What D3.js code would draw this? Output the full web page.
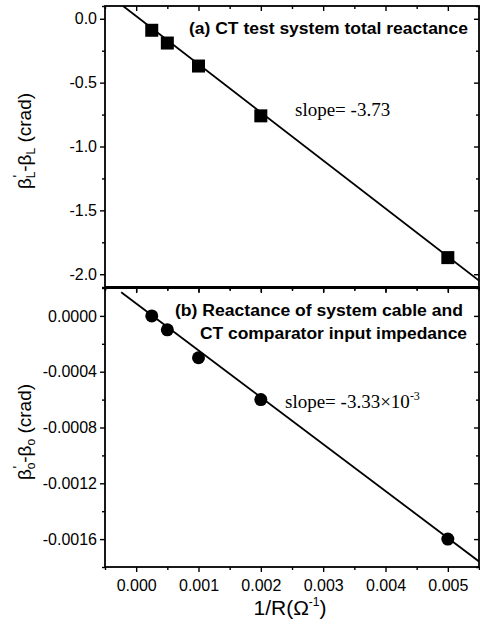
<!DOCTYPE html>
<html>
<head>
<meta charset="utf-8">
<script src="https://cdn.jsdelivr.net/npm/d3@7"></script>
<style>
  body { margin: 0; background: #fff; }
  svg text { fill: #000; }
</style>
</head>
<body>
<div id="chart"></div>
<script>
// x values (1/R, Ω^-1) shared by both panels
const invR = [0.00025, 0.0005, 0.001, 0.002, 0.005];
// (a) total reactance, crad
const dBetaL = [-0.09, -0.19, -0.37, -0.76, -1.87];
// (b) cable + comparator input impedance, crad
const dBeta0 = [0.0, -0.0001, -0.0003, -0.0006, -0.0016];

// fitted lines, end points
const fitLX = [-0.00021, 0.0055];
const fitLY = [0.1, -2.05];
const fit0X = [-0.00024, 0.0055];
const fit0Y = [0.00017, -0.00176];

const xTicks = [0, 0.001, 0.002, 0.003, 0.004, 0.005];
const xMinor = [-0.0005, 0.0005, 0.0015, 0.0025, 0.0035, 0.0045, 0.0055];
const yTicksL = [0.0, -0.5, -1.0, -1.5, -2.0];
const yMinorL = [0.1, -0.25, -0.75, -1.25, -1.75, -2.1];
const yTicks0 = [0.0, -0.0004, -0.0008, -0.0012, -0.0016];
const yMinor0 = [0.0002, -0.0002, -0.0006, -0.001, -0.0014, -0.0018];

const width = 480, height = 624;
const left = 105, right = 479;
const sans = "Arial, 'Liberation Sans', sans-serif";
const serif = "'Times New Roman', 'Liberation Serif', serif";

const svg = d3.select("#chart")
  .append("svg")
  .attr("width", width)
  .attr("height", height);

const x = d3.scaleLinear().domain([-0.0005, 0.0055]).range([left, right]);

function drawPanel(cfg) {
  const y = d3.scaleLinear().domain(cfg.yDomain).range([cfg.bottom, cfg.top]);
  const g = svg.append("g");

  const clipId = "clip-" + cfg.id;
  svg.append("clipPath").attr("id", clipId)
    .append("rect")
    .attr("x", left).attr("y", cfg.top)
    .attr("width", right - left).attr("height", cfg.bottom - cfg.top);

  // left axis, ticks outward
  g.append("g")
    .attr("transform", `translate(${left},0)`)
    .call(d3.axisLeft(y).tickValues(cfg.yTicks).tickFormat(cfg.yFormat)
      .tickSize(5).tickPadding(3).tickSizeOuter(0));
  g.append("g")
    .attr("transform", `translate(${left},0)`)
    .call(d3.axisLeft(y).tickValues(cfg.yMinor).tickFormat("").tickSize(3).tickSizeOuter(0));

  // right axis, ticks inward
  g.append("g")
    .attr("transform", `translate(${right},0)`)
    .call(d3.axisRight(y).tickValues(cfg.yTicks).tickFormat("").tickSize(-5).tickSizeOuter(0));
  g.append("g")
    .attr("transform", `translate(${right},0)`)
    .call(d3.axisRight(y).tickValues(cfg.yMinor).tickFormat("").tickSize(-3).tickSizeOuter(0));

  // top axis, ticks inward
  g.append("g")
    .attr("transform", `translate(0,${cfg.top})`)
    .call(d3.axisTop(x).tickValues(xTicks).tickFormat("").tickSize(-5).tickSizeOuter(0));
  g.append("g")
    .attr("transform", `translate(0,${cfg.top})`)
    .call(d3.axisTop(x).tickValues(xMinor).tickFormat("").tickSize(-3).tickSizeOuter(0));

  // bottom axis, ticks outward
  g.append("g")
    .attr("transform", `translate(0,${cfg.bottom})`)
    .call(d3.axisBottom(x).tickValues(xTicks)
      .tickFormat(cfg.showX ? d3.format(".3f") : "")
      .tickSize(5).tickPadding(8).tickSizeOuter(0));
  g.append("g")
    .attr("transform", `translate(0,${cfg.bottom})`)
    .call(d3.axisBottom(x).tickValues(xMinor).tickFormat("").tickSize(3).tickSizeOuter(0));

  g.selectAll(".domain").remove();
  g.selectAll(".tick line").attr("stroke", "#000").attr("stroke-width", 1.4);
  g.selectAll(".tick text")
    .style("font-family", sans)
    .style("font-size", "16px")
    .attr("fill", "#000");

  // frame
  g.append("rect")
    .attr("x", left).attr("y", cfg.top)
    .attr("width", right - left).attr("height", cfg.bottom - cfg.top)
    .attr("fill", "none").attr("stroke", "#000").attr("stroke-width", 1.8);

  // fit line
  const line = d3.line().x(d => x(d[0])).y(d => y(d[1]));
  g.append("path")
    .attr("clip-path", `url(#${clipId})`)
    .datum(d3.zip(cfg.fitX, cfg.fitY))
    .attr("d", line)
    .attr("fill", "none")
    .attr("stroke", "#000")
    .attr("stroke-width", 1.8);

  // markers
  const pts = d3.zip(invR, cfg.values);
  if (cfg.marker === "square") {
    g.selectAll("rect.pt").data(pts).enter()
      .append("rect").attr("class", "pt")
      .attr("x", d => x(d[0]) - 6.5).attr("y", d => y(d[1]) - 6.5)
      .attr("width", 13).attr("height", 13)
      .attr("fill", "#000");
  } else {
    g.selectAll("circle.pt").data(pts).enter()
      .append("circle").attr("class", "pt")
      .attr("cx", d => x(d[0])).attr("cy", d => y(d[1]))
      .attr("r", 6.5)
      .attr("fill", "#000");
  }

  return { g, y };
}

const panelA = drawPanel({
  id: "a", top: 6, bottom: 287,
  yDomain: [-2.1, 0.1], yTicks: yTicksL, yMinor: yMinorL,
  yFormat: d3.format(".1f"), values: dBetaL,
  fitX: fitLX, fitY: fitLY, marker: "square", showX: false
});

const panelB = drawPanel({
  id: "b", top: 288, bottom: 567,
  yDomain: [-0.0018, 0.0002], yTicks: yTicks0, yMinor: yMinor0,
  yFormat: d3.format(".4f"), values: dBeta0,
  fitX: fit0X, fitY: fit0Y, marker: "circle", showX: true
});

// heavier rule between the two panels
svg.append("line")
  .attr("x1", left).attr("x2", right)
  .attr("y1", 287.5).attr("y2", 287.5)
  .attr("stroke", "#000").attr("stroke-width", 3);

// minus signs in tick labels: plain hyphen like the original
svg.selectAll(".tick text").text(function() {
  return d3.select(this).text().replace("\u2212", "-");
});

// panel captions (the scan is a bit wide, so fit each line to its width)
function caption(tx, ty, len, str) {
  svg.append("text")
    .attr("x", tx).attr("y", ty)
    .attr("textLength", len).attr("lengthAdjust", "spacingAndGlyphs")
    .style("font-family", sans).style("font-size", "16px").style("font-weight", "bold")
    .text(str);
}
caption(189, 34, 279, "(a) CT test system total reactance");
caption(175, 316, 288, "(b) Reactance of system cable and");
caption(200, 339, 267, "CT comparator input impedance");

// slope notes
svg.append("text")
  .attr("x", 295).attr("y", 116)
  .style("font-family", serif).style("font-size", "19px")
  .text("slope= -3.73");

const s2 = svg.append("text")
  .attr("x", 285).attr("y", 408)
  .style("font-family", serif).style("font-size", "19px");
s2.append("tspan").text("slope= -3.33\u00d710");
s2.append("tspan").attr("dy", -8).style("font-size", "12px").text("-3");

// y axis titles
function yTitle(cx, cy, sub) {
  const t = svg.append("text")
    .attr("transform", `translate(${cx},${cy}) rotate(-90)`)
    .attr("text-anchor", "middle")
    .style("font-family", sans).style("font-size", "19px");
  t.append("tspan").text("\u03b2");
  t.append("tspan").attr("dy", 4).style("font-size", "12px").text(sub);
  t.append("tspan").attr("dy", -12).attr("dx", -6).style("font-size", "14px").text("'");
  t.append("tspan").attr("dy", 8).attr("dx", 3).text("-\u03b2");
  t.append("tspan").attr("dy", 4).style("font-size", "12px").text(sub);
  t.append("tspan").attr("dy", -4).text(" (crad)");
}
yTitle(31, 141, "L");
yTitle(31, 432, "o");

// x axis title
const xt = svg.append("text")
  .attr("x", 290).attr("y", 615)
  .attr("text-anchor", "middle")
  .style("font-family", sans).style("font-size", "21px");
xt.append("tspan").text("1/R(\u03a9");
xt.append("tspan").attr("dy", -9).style("font-size", "12px").text("-1");
xt.append("tspan").attr("dy", 9).text(")");
</script>
</body>
</html>
